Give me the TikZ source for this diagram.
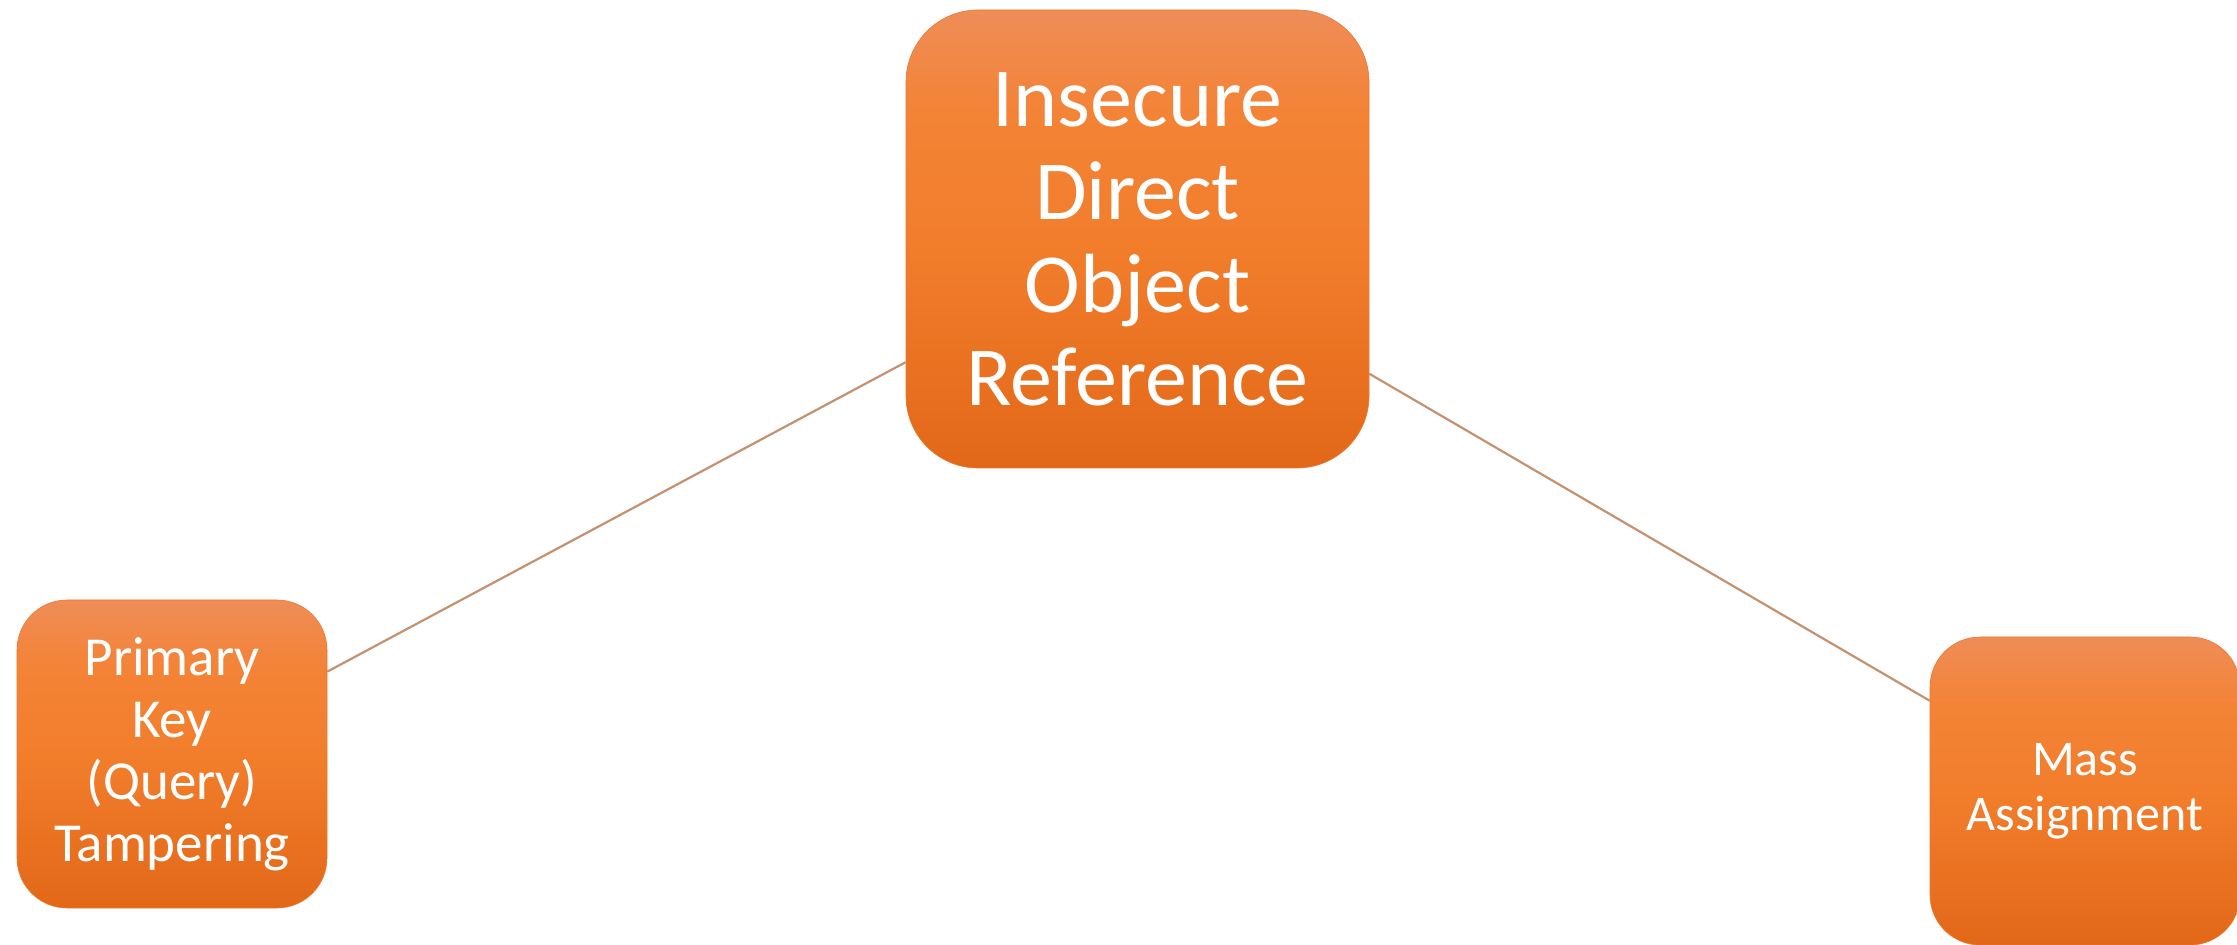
\documentclass[tikz,border=0pt]{standalone}
\usepackage{fontspec}
\setmainfont{Carlito}
\definecolor{obot}{RGB}{226,104,24}
\definecolor{omid}{RGB}{242,126,44}
\definecolor{omidup}{RGB}{243,131,54}
\definecolor{otop}{RGB}{239,141,88}
\pgfdeclareverticalshading{orangegrad}{100bp}{color(0bp)=(obot); color(25bp)=(obot); color(50bp)=(omid); color(64bp)=(omidup); color(75bp)=(otop); color(100bp)=(otop)}
\begin{document}
\begin{tikzpicture}[x=0.5pt,y=-0.5pt,
  topicbox/.style={rounded corners=#1, inner sep=0pt, align=center, text=white,
    shading=orangegrad,
    draw={rgb,255:red,235;green,120;blue,50}, line width=0.3pt},
  link/.style={draw={rgb,255:red,196;green,146;blue,112}, line width=1.1pt}]
\useasboundingbox (0,0) rectangle (2237,945);
\fill[white] (0,0) rectangle (2237,945);
\node[topicbox=36pt, minimum width=231.5pt, minimum height=229pt,
  font=\fontsize{42pt}{46.5pt}\selectfont] (c) at (1137.5,239)
  {Insecure\\Direct\\Object\\Reference};
\node[topicbox=25pt, minimum width=155pt, minimum height=154pt,
  font=\fontsize{27.5pt}{31pt}\selectfont] (l) at (172,754)
  {Primary\\Key\\(Query)\\Tampering};
\node[topicbox=25pt, minimum width=155pt, minimum height=154pt,
  font=\fontsize{25pt}{27.5pt}\selectfont] (r) at (2085,791)
  {Mass\\Assignment};
\draw[link] (c) -- (l);
\draw[link] (c) -- (r);
\end{tikzpicture}
\end{document}
